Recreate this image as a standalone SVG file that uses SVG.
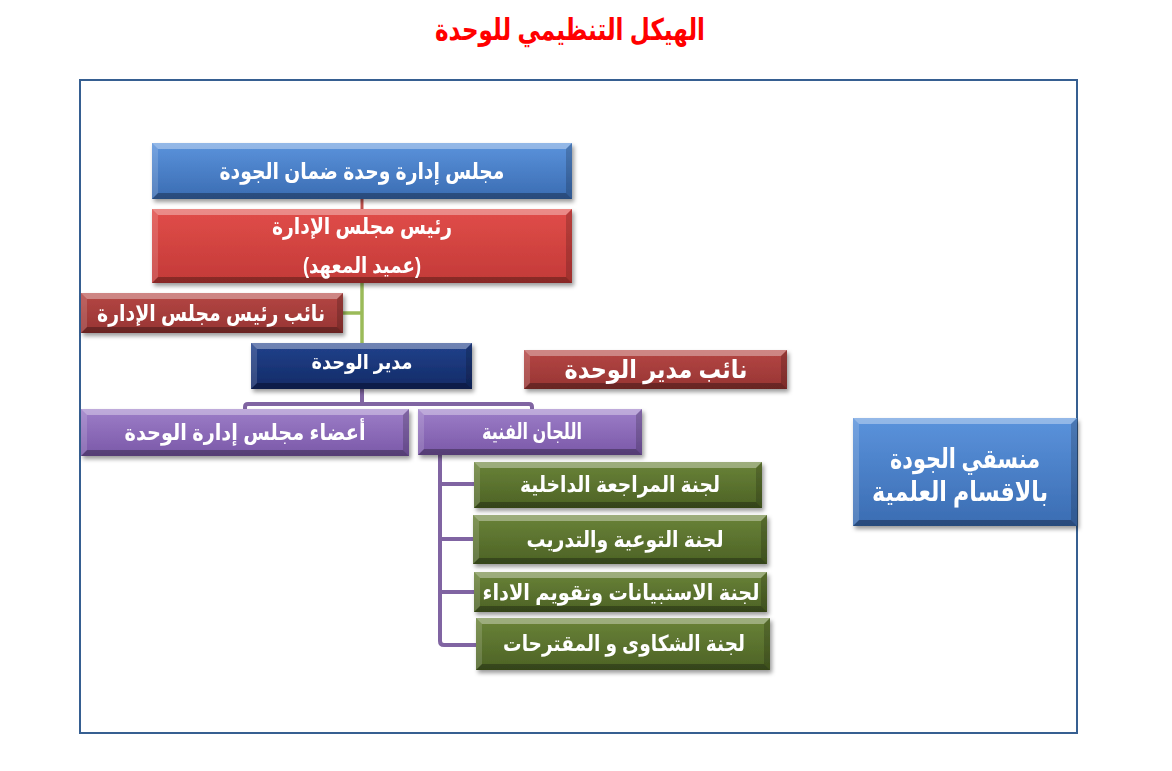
<svg xmlns="http://www.w3.org/2000/svg" width="1172" height="771" viewBox="0 0 1172 771">
<defs>
<linearGradient id="gBlue" x1="0" y1="0" x2="0" y2="1"><stop offset="0" stop-color="#5b93dc"/><stop offset="1" stop-color="#3a6cb2"/></linearGradient>
<linearGradient id="gRed" x1="0" y1="0" x2="0" y2="1"><stop offset="0" stop-color="#e14d49"/><stop offset="1" stop-color="#c33a38"/></linearGradient>
<linearGradient id="gDark" x1="0" y1="0" x2="0" y2="1"><stop offset="0" stop-color="#b54744"/><stop offset="1" stop-color="#973433"/></linearGradient>
<linearGradient id="gNavy" x1="0" y1="0" x2="0" y2="1"><stop offset="0" stop-color="#22428c"/><stop offset="1" stop-color="#122a66"/></linearGradient>
<linearGradient id="gPurple" x1="0" y1="0" x2="0" y2="1"><stop offset="0" stop-color="#9d7ec8"/><stop offset="1" stop-color="#7a58a8"/></linearGradient>
<linearGradient id="gGreen" x1="0" y1="0" x2="0" y2="1"><stop offset="0" stop-color="#6a8338"/><stop offset="1" stop-color="#4c6225"/></linearGradient>
<filter id="sh" x="-10%" y="-20%" width="125%" height="150%"><feDropShadow dx="2" dy="3" stdDeviation="2" flood-color="#000" flood-opacity="0.4"/></filter>
</defs>
<style>
.t{font-family:"Liberation Sans","DejaVu Sans",Arial,sans-serif;font-weight:bold;fill:#fff;text-anchor:middle}
.bt{fill:#fff;opacity:0.35}
.bl{fill:#fff;opacity:0.15}
.bb{fill:#000;opacity:0.3}
.br{fill:#000;opacity:0.18}
.ln{fill:none;stroke-linecap:butt}
</style>
<rect width="1172" height="771" fill="#fff"/>
<text x="570" y="40" font-family="'Liberation Sans','DejaVu Sans',Arial,sans-serif" font-weight="bold" font-size="30" fill="#ff0000" text-anchor="middle" textLength="270" lengthAdjust="spacingAndGlyphs">الهيكل التنظيمي للوحدة</text>
<rect x="80" y="80" width="997" height="653" fill="none" stroke="#365f91" stroke-width="2"/>

<g id="connectors">
<path class="ln" d="M362,199 V209" stroke="#c0504d" stroke-width="3"/>
<path class="ln" d="M362,283 V343 M343,313 H362" stroke="#9bbb59" stroke-width="3.5"/>
<path class="ln" d="M362,389 V404 M245,409 V407 Q245,404 248,404 H529 Q532,404 532,407 V409" stroke="#8064a2" stroke-width="4"/>
<path class="ln" d="M440,455 V641 Q440,645 444,645 H476 M440,484 H474 M440,539 H473 M440,592 H474" stroke="#8064a2" stroke-width="4"/>
</g>

<g id="n1" filter="url(#sh)">
<rect x="152" y="143" width="420" height="56" fill="url(#gBlue)"/>
<path class="bt" d="M152,143 h420 l-6,6 h-408 z"/><path class="bb" d="M152,199 h420 l-6,-6 h-408 z"/><path class="bl" d="M152,143 l6,6 v44 l-6,6 z"/><path class="br" d="M572,143 l-6,6 v44 l6,6 z"/>
<text class="t" x="362" y="179" font-size="23" textLength="285" lengthAdjust="spacingAndGlyphs">مجلس إدارة وحدة ضمان الجودة</text>
</g>

<g id="n2" filter="url(#sh)">
<rect x="152" y="209" width="420" height="74" fill="url(#gRed)"/>
<path class="bt" d="M152,209 h420 l-6,6 h-408 z"/><path class="bb" d="M152,283 h420 l-6,-6 h-408 z"/><path class="bl" d="M152,209 l6,6 v62 l-6,6 z"/><path class="br" d="M572,209 l-6,6 v62 l6,6 z"/>
<text class="t" x="362" y="234" font-size="23" textLength="180" lengthAdjust="spacingAndGlyphs">رئيس مجلس الإدارة</text>
<text class="t" x="362" y="273" font-size="22" font-weight="normal" textLength="118" lengthAdjust="spacingAndGlyphs">(عميد المعهد)</text>
</g>

<g id="n3" filter="url(#sh)">
<rect x="81" y="293" width="262" height="40" fill="url(#gDark)"/>
<path class="bt" d="M81,293 h262 l-6,6 h-250 z"/><path class="bb" d="M81,333 h262 l-6,-6 h-250 z"/><path class="bl" d="M81,293 l6,6 v28 l-6,6 z"/><path class="br" d="M343,293 l-6,6 v28 l6,6 z"/>
<text class="t" x="211" y="321" font-size="23" textLength="228" lengthAdjust="spacingAndGlyphs">نائب رئيس مجلس الإدارة</text>
</g>

<g id="n4" filter="url(#sh)">
<rect x="251" y="343" width="221" height="46" fill="url(#gNavy)"/>
<path class="bt" d="M251,343 h221 l-6,6 h-209 z"/><path class="bb" d="M251,389 h221 l-6,-6 h-209 z"/><path class="bl" d="M251,343 l6,6 v34 l-6,6 z"/><path class="br" d="M472,343 l-6,6 v34 l6,6 z"/>
<text class="t" x="362" y="369" font-size="20" textLength="101" lengthAdjust="spacingAndGlyphs">مدير الوحدة</text>
</g>

<g id="n5" filter="url(#sh)">
<rect x="524" y="350" width="263" height="39" fill="url(#gDark)"/>
<path class="bt" d="M524,350 h263 l-6,6 h-251 z"/><path class="bb" d="M524,389 h263 l-6,-6 h-251 z"/><path class="bl" d="M524,350 l6,6 v27 l-6,6 z"/><path class="br" d="M787,350 l-6,6 v27 l6,6 z"/>
<text class="t" x="656" y="378" font-size="25" textLength="183" lengthAdjust="spacingAndGlyphs">نائب مدير الوحدة</text>
</g>

<g id="n6" filter="url(#sh)">
<rect x="81" y="409" width="328" height="47" fill="url(#gPurple)"/>
<path class="bt" d="M81,409 h328 l-6,6 h-316 z"/><path class="bb" d="M81,456 h328 l-6,-6 h-316 z"/><path class="bl" d="M81,409 l6,6 v35 l-6,6 z"/><path class="br" d="M409,409 l-6,6 v35 l6,6 z"/>
<text class="t" x="245" y="440" font-size="22" textLength="241" lengthAdjust="spacingAndGlyphs">أعضاء مجلس إدارة الوحدة</text>
</g>

<g id="n7" filter="url(#sh)">
<rect x="418" y="409" width="224" height="46" fill="url(#gPurple)"/>
<path class="bt" d="M418,409 h224 l-6,6 h-212 z"/><path class="bb" d="M418,455 h224 l-6,-6 h-212 z"/><path class="bl" d="M418,409 l6,6 v34 l-6,6 z"/><path class="br" d="M642,409 l-6,6 v34 l6,6 z"/>
<text class="t" x="532" y="439" font-size="22" textLength="100" lengthAdjust="spacingAndGlyphs">اللجان الفنية</text>
</g>

<g id="n8" filter="url(#sh)">
<rect x="474" y="462" width="288" height="46" fill="url(#gGreen)"/>
<path class="bt" d="M474,462 h288 l-6,6 h-276 z"/><path class="bb" d="M474,508 h288 l-6,-6 h-276 z"/><path class="bl" d="M474,462 l6,6 v34 l-6,6 z"/><path class="br" d="M762,462 l-6,6 v34 l6,6 z"/>
<text class="t" x="620" y="492" font-size="22" textLength="200" lengthAdjust="spacingAndGlyphs">لجنة المراجعة الداخلية</text>
</g>

<g id="n9" filter="url(#sh)">
<rect x="473" y="515" width="294" height="49" fill="url(#gGreen)"/>
<path class="bt" d="M473,515 h294 l-6,6 h-282 z"/><path class="bb" d="M473,564 h294 l-6,-6 h-282 z"/><path class="bl" d="M473,515 l6,6 v37 l-6,6 z"/><path class="br" d="M767,515 l-6,6 v37 l6,6 z"/>
<text class="t" x="625" y="547" font-size="22" textLength="197" lengthAdjust="spacingAndGlyphs">لجنة التوعية والتدريب</text>
</g>

<g id="n10" filter="url(#sh)">
<rect x="474" y="572" width="293" height="40" fill="url(#gGreen)"/>
<path class="bt" d="M474,572 h293 l-6,6 h-281 z"/><path class="bb" d="M474,612 h293 l-6,-6 h-281 z"/><path class="bl" d="M474,572 l6,6 v28 l-6,6 z"/><path class="br" d="M767,572 l-6,6 v28 l6,6 z"/>
<text class="t" x="621" y="600" font-size="22" textLength="277" lengthAdjust="spacingAndGlyphs">لجنة الاستبيانات وتقويم الاداء</text>
</g>

<g id="n11" filter="url(#sh)">
<rect x="476" y="618" width="294" height="52" fill="url(#gGreen)"/>
<path class="bt" d="M476,618 h294 l-6,6 h-282 z"/><path class="bb" d="M476,670 h294 l-6,-6 h-282 z"/><path class="bl" d="M476,618 l6,6 v40 l-6,6 z"/><path class="br" d="M770,618 l-6,6 v40 l6,6 z"/>
<text class="t" x="624" y="651" font-size="22" textLength="242" lengthAdjust="spacingAndGlyphs">لجنة الشكاوى و المقترحات</text>
</g>

<g id="n12" filter="url(#sh)">
<rect x="853" y="418" width="224" height="108" fill="url(#gBlue)"/>
<path class="bt" d="M853,418 h224 l-6,6 h-212 z"/><path class="bb" d="M853,526 h224 l-6,-6 h-212 z"/><path class="bl" d="M853,418 l6,6 v96 l-6,6 z"/><path class="br" d="M1077,418 l-6,6 v96 l6,6 z"/>
<text class="t" x="965" y="468" font-size="27" textLength="150" lengthAdjust="spacingAndGlyphs">منسقي الجودة</text>
<text class="t" x="960" y="501" font-size="27" textLength="176" lengthAdjust="spacingAndGlyphs">بالاقسام العلمية</text>
</g>
</svg>
